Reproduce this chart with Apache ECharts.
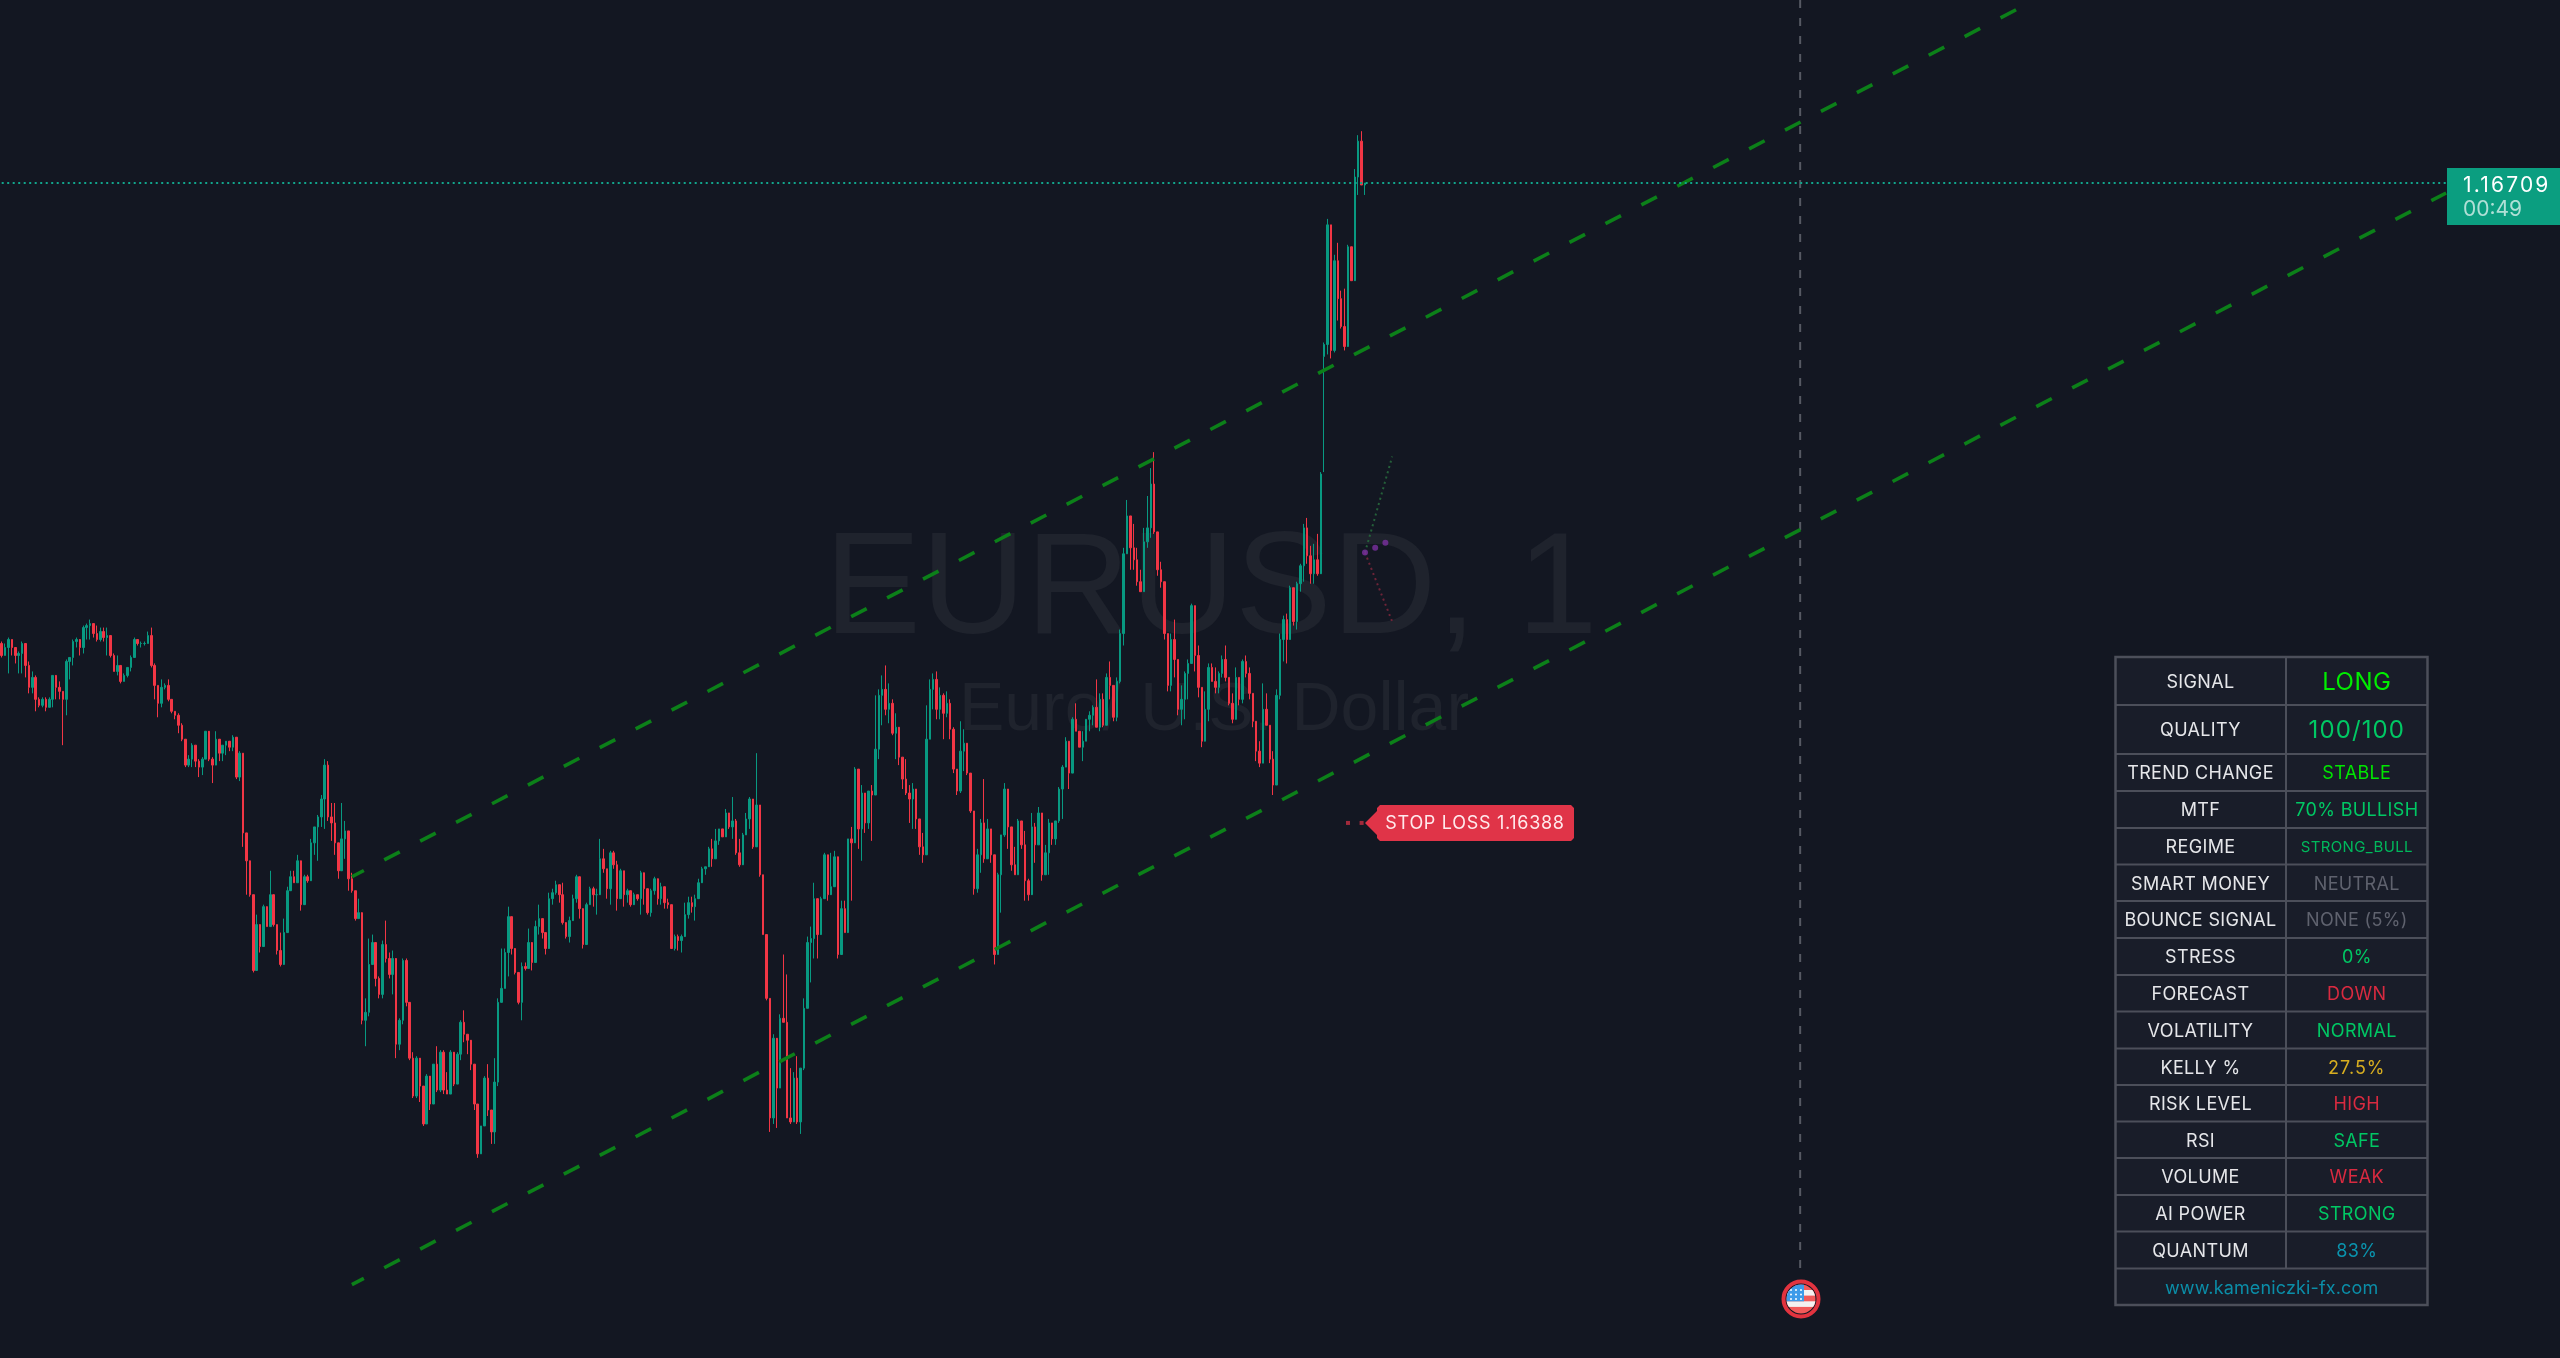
<!DOCTYPE html>
<html>
<head>
<meta charset="utf-8">
<title>EURUSD, 1</title>
<style>html,body{margin:0;padding:0;background:#131722;overflow:hidden}#chart{width:2560px;height:1358px}</style>
<script src="https://cdn.jsdelivr.net/npm/echarts@6/dist/echarts.min.js"></script>
</head>
<body>
<div id="chart"></div>
<script>
// Prices are stored in points above 1.16000 (1 point = 0.00001).
const firstOpen = 478;
const gapOpens = {389: 622};
const closePts = [
472,476,480,476,472,473,478,467,456,461,450,447,450,446,450,462,456,454,450,469,
471,479,480,476,486,487,488,483,480,484,481,482,472,464,467,459,462,466,471,480,
478,478,478,482,467,457,448,456,457,450,444,442,437,430,417,420,427,419,416,420,
434,420,417,430,423,427,429,426,431,411,423,383,369,352,314,337,326,346,336,352,
337,324,317,333,354,361,358,369,347,361,359,378,386,391,400,417,391,388,378,364,
380,384,360,354,340,343,289,293,317,328,310,302,327,320,312,320,277,289,319,298,
270,251,270,256,237,261,247,267,254,273,254,252,273,257,272,288,282,279,267,247,
222,236,260,244,233,258,298,305,323,341,325,313,298,316,315,328,318,336,340,333,
325,350,353,357,352,338,331,339,350,361,345,327,347,355,352,352,370,365,355,373,
367,350,364,352,354,347,352,350,363,355,343,354,360,350,356,348,347,325,331,329,
331,342,348,346,350,358,365,366,375,370,379,385,381,393,386,389,373,367,382,390,
400,376,397,362,332,300,240,280,255,290,288,240,238,260,238,265,295,328,330,350,
332,350,372,352,356,371,322,345,333,380,378,415,385,403,388,404,402,425,452,455,
445,448,433,436,421,410,403,400,405,390,376,372,430,455,460,445,452,443,448,435,
415,404,424,428,413,394,355,372,388,370,385,372,322,362,382,405,386,367,362,389,
377,359,352,386,377,393,362,373,388,380,389,405,416,429,413,440,434,426,429,440,
442,446,436,450,437,461,457,441,459,483,523,542,526,520,509,504,529,536,558,534,
515,509,483,457,480,470,445,450,463,468,497,472,456,429,445,466,459,456,463,470,
461,448,440,461,450,469,463,453,439,424,418,445,437,420,407,452,480,490,480,506,
489,508,517,536,522,513,520,513,563,628,688,625,670,651,637,627,677,660,712,730,
708,709
];
const highPts = [
479,478,481,480,474,474,479,478,469,464,462,451,451,451,451,462,461,459,454,470,
471,480,481,477,487,488,490,488,487,486,486,486,479,473,472,462,463,466,472,481,
479,479,479,484,486,468,457,460,458,460,450,444,443,438,430,422,428,427,420,421,
434,433,421,434,427,427,429,428,432,426,424,423,377,364,352,342,333,347,342,364,
350,337,333,340,356,364,364,372,358,362,362,380,386,392,402,420,419,398,398,371,
398,389,384,363,354,350,341,300,330,332,328,311,329,339,323,324,306,290,320,320,
280,273,271,263,256,262,256,267,276,274,274,263,274,268,273,289,294,282,276,267,
244,236,261,267,244,270,300,325,325,346,341,322,307,318,318,335,325,339,347,339,
333,353,355,359,356,358,337,341,352,362,358,339,348,356,356,355,380,375,365,374,
374,369,365,364,355,352,353,352,364,360,349,355,361,354,358,352,350,347,332,332,
332,348,351,351,352,360,366,366,376,380,385,385,385,395,390,401,390,380,383,393,
401,390,423,397,362,332,300,282,270,292,322,312,265,263,271,265,300,331,336,358,
348,351,373,370,373,374,360,349,349,380,386,416,414,407,403,404,407,452,455,462,
467,458,450,443,434,421,420,407,408,405,390,383,447,460,463,464,456,453,454,450,
436,415,439,435,428,413,394,375,390,410,390,385,372,363,382,408,405,379,376,390,
389,384,360,393,388,396,393,377,390,388,389,406,417,431,429,441,448,434,434,440,
444,447,460,453,453,463,469,457,461,485,526,550,542,538,526,515,536,552,566,574,
533,519,509,483,483,490,470,457,464,470,498,497,477,456,454,468,468,466,464,472,
477,461,453,466,461,470,472,466,453,439,429,458,453,437,424,455,483,492,493,507,
506,509,518,538,541,527,528,533,564,629,691,688,673,679,655,656,678,675,716,733,
735,709
];
const lowPts = [
471,472,463,472,468,463,463,461,453,453,444,446,446,444,446,446,450,450,427,442,
460,467,476,472,473,480,480,481,479,479,479,472,471,464,462,458,459,461,464,471,
477,476,477,478,466,450,441,446,455,449,443,440,433,429,416,416,416,416,411,412,
420,419,408,420,419,419,422,424,424,410,409,376,352,351,313,331,323,328,336,337,
336,322,316,328,342,356,358,358,344,348,358,368,372,369,386,385,389,379,372,360,
372,370,354,353,339,340,287,276,291,317,306,300,300,318,310,302,270,274,287,296,
269,250,250,248,236,237,244,256,253,253,252,252,256,256,264,269,278,272,264,244,
220,222,240,241,227,227,256,302,305,311,322,312,297,289,314,315,314,328,332,330,
322,327,347,352,348,337,330,328,343,348,340,325,328,347,346,342,357,363,350,347,
365,344,355,346,348,346,349,349,342,347,342,341,352,347,347,345,345,325,324,324,
323,334,340,343,339,353,362,362,368,366,370,377,381,386,385,380,372,366,377,382,
385,375,378,361,332,299,233,237,235,255,288,240,237,238,237,232,264,295,308,320,
320,335,350,349,355,360,320,329,333,348,349,380,375,369,383,385,379,415,420,437,
442,438,432,420,417,405,402,388,385,385,372,368,373,430,445,440,440,430,441,430,
413,402,403,414,412,393,352,353,363,368,378,368,317,322,343,381,375,364,362,362,
375,349,349,366,368,377,359,362,362,377,377,388,390,418,405,424,434,426,419,429,
434,437,436,434,436,437,450,439,439,458,477,523,515,515,507,504,504,526,531,533,
512,506,480,454,454,461,442,437,440,450,469,464,451,426,440,439,459,453,453,461,
459,447,438,448,447,448,461,450,436,419,416,418,437,418,402,407,450,469,468,480,
487,485,504,509,518,508,508,512,520,564,623,621,624,640,636,625,628,660,682,703,
708,703
];
// [bar index, points]
const upperChannel = [[103, 361], [598, 800.8]];
const lowerChannel = [[103, 156.4], [719, 704]];
const forecastUp = [[401, 523.6], [409, 571.8]];
const forecastDown = [[401, 523.6], [409, 489]];
const forecastDots = [[401, 523.6], [404, 526], [407, 528.6]];
const stopDots = [[396, 388], [400, 388]];
const sessionLine = [[529, 800.8], [529, 160]];
const lastPricePts = 709;
const stopPts = 388;
const slotCount = 753;
const categories = Array.from({length: slotCount}, (_, i) => String(i));

const tableLabels = ['SIGNAL','QUALITY','TREND CHANGE','MTF','REGIME','SMART MONEY','BOUNCE SIGNAL','STRESS','FORECAST','VOLATILITY','KELLY %','RISK LEVEL','RSI','VOLUME','AI POWER','QUANTUM'];
const tableValues = ['LONG','100/100','STABLE','70% BULLISH','STRONG_BULL','NEUTRAL','NONE (5%)','0%','DOWN','NORMAL','27.5%','HIGH','SAFE','WEAK','STRONG','83%'];
const tableColors = ['#00ee00','#00c864','#00e600','#00c864','#00b85c','#5f626e','#5f626e','#00c864','#d92a40','#00c864','#d8ae20','#d92a40','#00c864','#d92a40','#00c864','#0a94ae'];
const tableFooter = 'www.kameniczki-fx.com';

// Canvas letter-spacing per font size, to widen the tabular-looking interface text.
const spacingFor = (text, font) => {
  if (/^1\.\d{5}$/.test(text)) return '2.2px';
  if (/^STOP LOSS/.test(text)) return '0.7px';
  if (text === '100/100') return '1.1px';
  if (text === '27.5%') return '1px';
  if (text === 'LONG') return '0.5px';
  if (text === tableFooter) return '0.15px';
  if (text === '00:49') return '0px';
  if (/Liberation/.test(font)) return '0px';
  return '0.35px';
};
const nativeFillText = CanvasRenderingContext2D.prototype.fillText;
CanvasRenderingContext2D.prototype.fillText = function (t, x, y, m) {
  this.letterSpacing = spacingFor(String(t), this.font);
  return m === undefined ? nativeFillText.call(this, t, x, y) : nativeFillText.call(this, t, x, y, m);
};

const BG = '#131722', UP = '#089981', DOWN = '#F23645', CHANNEL = '#0c8019';
const price = p => +(1.16 + p / 1e5).toFixed(6);
const pair = rows => rows.map(r => [r[0], price(r[1])]);
const candles = closePts.map((c, i) => {
  const open = gapOpens[i] !== undefined ? gapOpens[i] : (i ? closePts[i - 1] : firstOpen);
  return [price(open), price(c), price(lowPts[i]), price(highPts[i])];
});
const lineSeries = (data, color, width, type, z, dashOffset) => ({
  type: 'line', data: pair(data), symbol: 'none', silent: true, z: z,
  lineStyle: {color, width, type, dashOffset: dashOffset || 0}, animation: false
});

const chart = echarts.init(document.getElementById('chart'), null, {renderer: 'canvas'});
const option = {
  backgroundColor: BG,
  animation: false,
  grid: {left: 0, right: 0, top: 0, bottom: 0},
  xAxis: {type: 'category', data: categories, show: false, boundaryGap: true},
  yAxis: {type: 'value', min: price(119.6), max: price(800.8), show: false, scale: true},
  series: [
    lineSeries(upperChannel, CHANNEL, 3.6, [17.5, 23], 3, 4),
    lineSeries(lowerChannel, CHANNEL, 3.6, [17.5, 23], 3, 4),
    lineSeries(sessionLine, '#565963', 2, [8, 10], 1),
    lineSeries([[0, lastPricePts], [719, lastPricePts]], '#12a58c', 1.8, [2, 3.5], 5),
    lineSeries(forecastUp, '#25603a', 2, [2, 3.5], 2),
    lineSeries(forecastDown, '#6e2438', 2, [2, 3.5], 2),
    {type: 'scatter', data: pair(forecastDots), symbol: 'circle', symbolSize: 6, silent: true,
      itemStyle: {color: '#7a2fa0'}, z: 4},
    {type: 'scatter', data: pair(stopDots), symbol: 'rect', symbolSize: [4, 4], silent: true,
      itemStyle: {color: '#c42f42'}, z: 4},
    {type: 'candlestick', data: candles, barWidth: 2, silent: true, z: 2,
      itemStyle: {color: UP, color0: DOWN, borderColor: UP, borderColor0: DOWN, borderWidth: 1}}
  ]
};
chart.setOption(option);

const FONT = 'Inter, "Noto Sans", sans-serif';
const txt = (x, y, text, size, fill, extra) => ({
  type: 'text', x, y, z: 50, silent: true,
  style: Object.assign({text, fill, font: `${size}px ${FONT}`, align: 'center', verticalAlign: 'middle'}, extra || {})
});
const g = [];
// watermark
g.push({type: 'text', x: 1211, y: 593, z: -1, silent: true,
  style: {text: 'EURUSD, 1', fill: '#1f232d', font: '145px "Liberation Sans", Arial, sans-serif', align: 'center', verticalAlign: 'middle'}});
g.push({type: 'text', x: 1214, y: 711, z: -1, silent: true,
  style: {text: 'Euro/ U.S. Dollar', fill: '#1f232d', font: '68px "Liberation Sans", Arial, sans-serif', align: 'center', verticalAlign: 'middle'}});

// last price tag
const lastY = chart.convertToPixel({yAxisIndex: 0}, price(lastPricePts));
g.push({type: 'rect', z: 40, silent: true, shape: {x: 2447, y: lastY - 15, width: 113, height: 57}, style: {fill: '#0b9e80'}});
g.push(txt(2463, lastY + 3, (1.16 + lastPricePts / 1e5).toFixed(5), 21, '#ffffff', {align: 'left'}));
g.push(txt(2463, lastY + 27, '00:49', 21, 'rgba(255,255,255,0.68)', {align: 'left'}));

// stop loss tag
const stopY = chart.convertToPixel({yAxisIndex: 0}, price(stopPts));
g.push({type: 'polygon', z: 40, silent: true,
  shape: {points: [[1365, stopY], [1377, stopY - 12], [1377, stopY - 15], [1380, stopY - 18], [1571, stopY - 18], [1574, stopY - 15], [1574, stopY + 15], [1571, stopY + 18], [1380, stopY + 18], [1377, stopY + 15], [1377, stopY + 12]]},
  style: {fill: '#e03448'}});
g.push(txt(1475, stopY + 0.5, 'STOP LOSS ' + (1.16 + stopPts / 1e5).toFixed(5), 18, '#ffe9ec'));

// table
const left = 2115.5, mid = 2286, right = 2427.5;
const rowLines = [657,705,754,791,828,864.5,901,938,975,1011.5,1048.5,1085,1121.5,1158,1195,1231.5,1268.5,1305];
const lineCol = '#4c4f5a', cellCol = '#191d29';
g.push({type: 'rect', z: 30, silent: true, shape: {x: left, y: rowLines[0], width: right - left, height: rowLines[17] - rowLines[0]}, style: {fill: cellCol, stroke: lineCol, lineWidth: 2.5}});
rowLines.slice(1, 17).forEach(y => g.push({type: 'line', z: 31, silent: true, shape: {x1: left, y1: y, x2: right, y2: y}, style: {stroke: lineCol, lineWidth: 2}}));
g.push({type: 'line', z: 31, silent: true, shape: {x1: mid, y1: rowLines[0], x2: mid, y2: rowLines[16]}, style: {stroke: lineCol, lineWidth: 2}});
tableLabels.forEach((t, i) => {
  const cy = (rowLines[i] + rowLines[i + 1]) / 2;
  g.push(txt(2200.5, cy + 1.5, t, 18, '#e6e7ea'));
  const size = i < 2 ? 24 : (t === 'REGIME' ? 15 : 18);
  g.push(txt(2356.8, cy + 1.5, tableValues[i], size, tableColors[i]));
});
g.push(txt(2271.7, (rowLines[16] + rowLines[17]) / 2 + 1.5, tableFooter, 18, '#0b8ea8'));

// US-session flag marker
const flagSvg = '<svg xmlns="http://www.w3.org/2000/svg" width="40" height="40" viewBox="-20 -20 40 40">' +
  '<circle r="17.5" fill="#131722" stroke="#e2333f" stroke-width="4"/>' +
  '<clipPath id="c"><circle r="14.5"/></clipPath><g clip-path="url(#c)">' +
  '<rect x="-15" y="-15" width="30" height="30" fill="#f25a5a"/>' +
  '<rect x="-15" y="-9" width="30" height="5.6" fill="#f4f1f1"/>' +
  '<rect x="-15" y="2.3" width="30" height="5.6" fill="#f4f1f1"/>' +
  '<rect x="-15" y="-15" width="18" height="17.3" fill="#3d9be9"/>' +
  '<g fill="#fff"><circle cx="-10" cy="-9" r="1"/><circle cx="-5" cy="-9" r="1"/><circle cx="0" cy="-9" r="1"/>' +
  '<circle cx="-10" cy="-4.5" r="1"/><circle cx="-5" cy="-4.5" r="1"/><circle cx="0" cy="-4.5" r="1"/>' +
  '<circle cx="-10" cy="0" r="1"/><circle cx="-5" cy="0" r="1"/><circle cx="0" cy="0" r="1"/></g></g></svg>';
g.push({type: 'image', z: 40, silent: true, style: {image: 'data:image/svg+xml;utf8,' + encodeURIComponent(flagSvg), x: 1781, y: 1279, width: 40, height: 40}});

chart.setOption({graphic: {elements: g}});
</script>
</body>
</html>
